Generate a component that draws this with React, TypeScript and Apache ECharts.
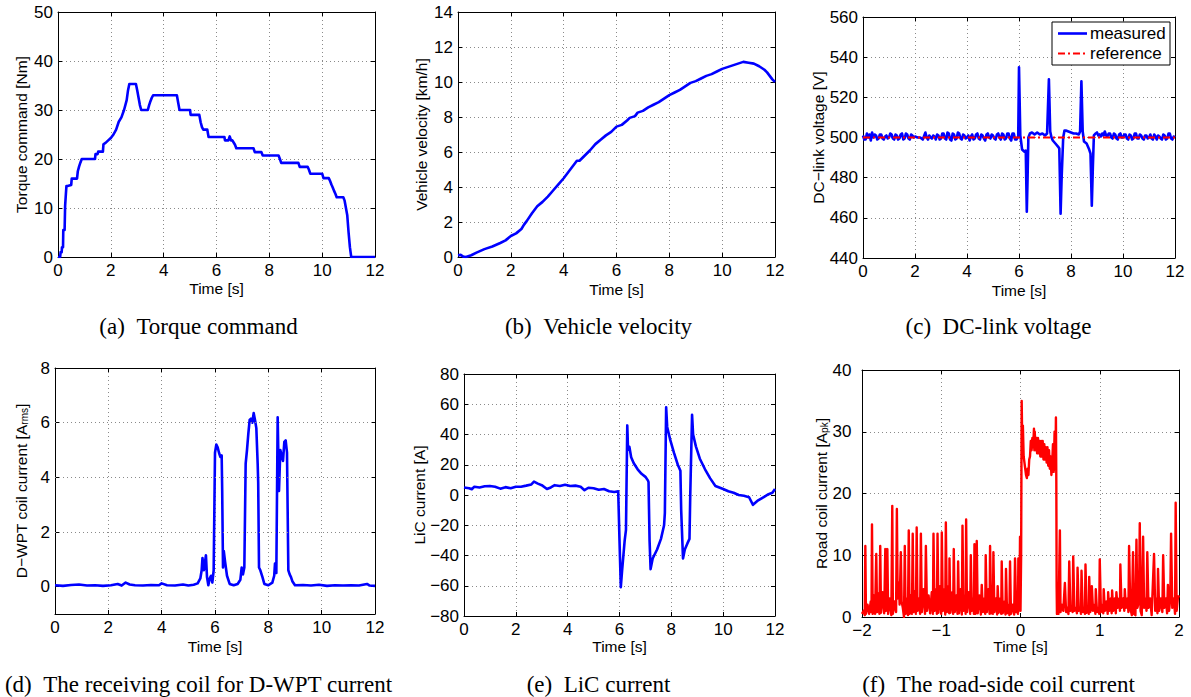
import React, { useEffect, useRef } from 'react';
import * as echarts from 'echarts';

const SANS = '"Liberation Sans", Arial, Helvetica, sans-serif';
const SERIF = '"Liberation Serif", "Times New Roman", serif';
const BLUE = '#0000ff';
const RED = '#ff0000';

// (a) Torque command [Nm] vs time [s]
const torqueCommand: [number, number][] = [
  [0, 0], [0.08, 0], [0.1, 1], [0.14, 1], [0.15, 2], [0.19, 2], [0.2, 5.5], [0.25, 5.5], [0.27, 10.5], [0.3, 13],
  [0.32, 14.5], [0.36, 14.5], [0.5, 14.7], [0.52, 16], [0.56, 16], [0.72, 16], [0.75, 17.5], [0.8, 18.5], [0.85, 19.3],
  [0.9, 20], [0.95, 20], [1.4, 20], [1.42, 21], [1.5, 21], [1.52, 21.5], [1.7, 21.5], [1.72, 23], [1.8, 23.3], [1.9, 23.8],
  [2.0, 24.3], [2.1, 25], [2.2, 26], [2.3, 27.6], [2.4, 28.5], [2.5, 30], [2.6, 32], [2.65, 34], [2.7, 35.3], [2.95, 35.3],
  [3.0, 34], [3.05, 32.5], [3.1, 31], [3.15, 30], [3.4, 30], [3.45, 31], [3.5, 31.8], [3.55, 32.5], [3.6, 33], [4.5, 33],
  [4.55, 31.5], [4.6, 30], [5.0, 30], [5.02, 29], [5.35, 29], [5.4, 27.5], [5.45, 26.5], [5.5, 26], [5.65, 26], [5.7, 24.5],
  [6.3, 24.5], [6.32, 23.8], [6.45, 23.8], [6.5, 24.6], [6.55, 23.8], [6.6, 23.8], [6.7, 22.9], [6.75, 22.2], [7.4, 22.2],
  [7.45, 21.4], [7.7, 21.4], [7.75, 20.7], [8.35, 20.7], [8.4, 20], [8.45, 19.2], [9.1, 19.2], [9.15, 18.4], [9.45, 18.4],
  [9.5, 17.8], [9.55, 17.0], [10.0, 17.0], [10.05, 16.1], [10.25, 16.1], [10.3, 15.5], [10.35, 14.8], [10.4, 14.2],
  [10.45, 13.5], [10.5, 12.9], [10.55, 12.2], [10.8, 12.2], [10.85, 11.5], [10.9, 10], [10.95, 8.5], [11.0, 5],
  [11.05, 2], [11.1, 0], [12, 0],
];

// (b) Vehicle velocity [km/h]
const vehicleVelocity: [number, number][] = [
  [0, 0.1], [0.1, 0.12], [0.2, 0.02], [0.3, 0.0], [0.5, 0.1], [0.7, 0.25], [1.0, 0.45], [1.3, 0.6], [1.6, 0.8], [1.8, 0.95],
  [2.0, 1.2], [2.2, 1.35], [2.4, 1.6], [2.5, 1.85], [2.6, 2.05], [2.8, 2.5], [3.0, 2.9], [3.2, 3.15], [3.4, 3.45], [3.6, 3.8],
  [3.8, 4.15], [4.0, 4.5], [4.2, 4.9], [4.4, 5.3], [4.5, 5.5], [4.6, 5.5], [4.8, 5.8], [5.0, 6.1], [5.2, 6.45], [5.4, 6.7],
  [5.6, 6.95], [5.8, 7.15], [6.0, 7.45], [6.2, 7.55], [6.4, 7.8], [6.5, 7.95], [6.7, 8.05], [6.8, 8.25], [7.0, 8.35],
  [7.2, 8.55], [7.4, 8.7], [7.6, 8.85], [7.8, 9.05], [8.0, 9.25], [8.2, 9.4], [8.4, 9.55], [8.6, 9.75], [8.8, 9.95],
  [9.0, 10.05], [9.2, 10.2], [9.4, 10.35], [9.6, 10.45], [9.8, 10.6], [10.0, 10.75], [10.2, 10.85], [10.4, 10.95],
  [10.6, 11.05], [10.8, 11.15], [11.0, 11.1], [11.2, 11.05], [11.4, 10.9], [11.5, 10.8], [11.6, 10.7], [11.7, 10.55],
  [11.8, 10.35], [11.9, 10.15], [12.0, 10.0],
];

// (c) DC-link voltage [V]
const dcLinkMeasured: [number, number][] = [
  [0.0, 501], [0.05, 499], [0.1, 499], [0.15, 502], [0.2, 500], [0.25, 501.5], [0.3, 498.5], [0.35, 502.5], [0.4, 500],
  [0.45, 501.5], [0.5, 501], [0.55, 499], [0.6, 499.5], [0.65, 501.5], [0.7, 501.5], [0.75, 499.5], [0.8, 499],
  [0.85, 500.5], [0.9, 501], [0.95, 499.5], [1.0, 500], [1.05, 502], [1.1, 501.5], [1.15, 499.5], [1.2, 499], [1.25, 501.5],
  [1.3, 501], [1.35, 499], [1.4, 499.5], [1.45, 501.5], [1.5, 502], [1.55, 499], [1.6, 499.5], [1.65, 502], [1.7, 501.5],
  [1.75, 499.5], [1.8, 499], [1.85, 501.5], [1.9, 501], [1.95, 500], [2.0, 500.5], [2.1, 500], [2.2, 500], [2.3, 499],
  [2.4, 502.5], [2.45, 500], [2.5, 499], [2.55, 501], [2.6, 500], [2.65, 499.5], [2.7, 501], [2.75, 500.5], [2.8, 499],
  [2.85, 501.5], [2.9, 501], [2.95, 499], [3.0, 499.5], [3.05, 502], [3.1, 502], [3.15, 499.5], [3.2, 499], [3.25, 502.5],
  [3.3, 502], [3.35, 499], [3.4, 498.5], [3.45, 502], [3.5, 501.5], [3.55, 499], [3.6, 499.5], [3.65, 502.5], [3.7, 502],
  [3.75, 499.5], [3.8, 499], [3.85, 501.5], [3.9, 501], [3.95, 499.5], [4.0, 500], [4.05, 501], [4.1, 498.5], [4.15, 500.5],
  [4.2, 501.5], [4.25, 499], [4.3, 499.5], [4.35, 501.5], [4.4, 502], [4.45, 499.5], [4.5, 499], [4.55, 501.5], [4.6, 501],
  [4.65, 499.5], [4.7, 498.5], [4.75, 501.5], [4.8, 502], [4.85, 500], [4.9, 499.5], [4.95, 501.5], [5.0, 501],
  [5.05, 499.5], [5.1, 499], [5.15, 501.5], [5.2, 502], [5.25, 500], [5.3, 499], [5.35, 502], [5.4, 501.5], [5.45, 499],
  [5.5, 499.5], [5.55, 502], [5.6, 502], [5.65, 499.5], [5.7, 498.5], [5.75, 502], [5.8, 502], [5.85, 499], [5.9, 499],
  [5.97, 500.5],
  [6.0, 535], [6.05, 501], [6.08, 498], [6.12, 494], [6.2, 493], [6.26, 493.5], [6.3, 463], [6.33, 480], [6.36, 500],
  [6.42, 502], [6.5, 502.5], [6.6, 501.5], [6.7, 502.5], [6.8, 501.5], [6.9, 502], [7.0, 501], [7.08, 502], [7.15, 529],
  [7.2, 503], [7.25, 500], [7.3, 498.5], [7.4, 497], [7.5, 495.5], [7.55, 494.5], [7.6, 462], [7.64, 480], [7.7, 500],
  [7.75, 503.5], [7.8, 503.5], [7.9, 503], [8.0, 502.5], [8.1, 502], [8.2, 502], [8.3, 501.5], [8.35, 503], [8.4, 528],
  [8.45, 503], [8.5, 498], [8.55, 497.5], [8.6, 497], [8.7, 494], [8.75, 492], [8.8, 466], [8.84, 485], [8.88, 501],
  [8.95, 502], [9.0, 502.5], [9.05, 501], [9.1, 501.5], [9.15, 500.5], [9.2, 502], [9.25, 501], [9.3, 503], [9.35, 501],
  [9.4, 500.5], [9.45, 502], [9.5, 502], [9.55, 500], [9.6, 499.5], [9.65, 502], [9.7, 501.5], [9.75, 499.5], [9.8, 499],
  [9.85, 501.5], [9.9, 502], [9.95, 500], [10.0, 500], [10.05, 501.5], [10.1, 501.5], [10.15, 499.5], [10.2, 499],
  [10.25, 501.5], [10.3, 501], [10.35, 499], [10.4, 499.5], [10.45, 502], [10.5, 502], [10.55, 499.5], [10.6, 499.5],
  [10.65, 501.5], [10.7, 501], [10.75, 499.5], [10.8, 499], [10.85, 501], [10.9, 501], [10.95, 499.5], [11.0, 500],
  [11.05, 501.5], [11.1, 499.5], [11.15, 499], [11.2, 501.5], [11.25, 500.5], [11.3, 499], [11.35, 501], [11.4, 500.5],
  [11.45, 499.5], [11.5, 499], [11.55, 501.5], [11.6, 501], [11.65, 499], [11.7, 499.5], [11.75, 502], [11.8, 502],
  [11.85, 499.5], [11.9, 499], [11.95, 500.5], [12.0, 500],
];
const dcLinkReference: [number, number][] = [[0, 500], [12, 500]];

// (d) D-WPT receiving coil current [A rms]
const dwptCurrent: [number, number][] = [
  [0, 0.05], [0.3, 0.03], [0.6, 0.06], [0.9, 0.08], [1.2, 0.04], [1.5, 0.05], [1.8, 0.03], [2.1, 0.05], [2.35, 0.1],
  [2.5, 0.04], [2.65, 0.15], [2.8, 0.08], [3.0, 0.05], [3.3, 0.04], [3.6, 0.06], [3.9, 0.05], [4.0, 0.12], [4.2, 0.05],
  [4.5, 0.04], [4.8, 0.08], [5.0, 0.04], [5.2, 0.07], [5.35, 0.12], [5.45, 0.3], [5.5, 0.6], [5.53, 1.05], [5.58, 0.6],
  [5.62, 0.85], [5.66, 1.15], [5.7, 0.35], [5.75, 0.05], [5.8, 0.3], [5.85, 0.4], [5.9, 0.15], [5.95, 0.6], [6.0, 4.9],
  [6.05, 5.2], [6.1, 5.1], [6.15, 4.9], [6.2, 4.75], [6.25, 4.8], [6.27, 3.5], [6.3, 0.7], [6.33, 1.3], [6.38, 0.9],
  [6.45, 0.4], [6.55, 0.1], [6.7, 0.05], [6.85, 0.1], [6.95, 0.25], [7.0, 0.7], [7.05, 0.45], [7.1, 0.7], [7.15, 4.5],
  [7.2, 5.0], [7.25, 5.6], [7.3, 6.1], [7.35, 6.15], [7.4, 6.0], [7.45, 6.35], [7.5, 6.1], [7.55, 5.8], [7.6, 4.5],
  [7.62, 3.8], [7.65, 0.7], [7.7, 0.6], [7.78, 0.35], [7.85, 0.1], [8.0, 0.05], [8.15, 0.15], [8.22, 0.4], [8.25, 0.85],
  [8.3, 0.5], [8.35, 6.2], [8.4, 3.5], [8.45, 5.0], [8.5, 4.8], [8.55, 4.6], [8.6, 5.3], [8.65, 5.35], [8.7, 4.9],
  [8.75, 0.6], [8.8, 0.45], [8.85, 0.35], [8.9, 0.2], [9.0, 0.05], [9.3, 0.06], [9.6, 0.04], [9.9, 0.07], [10.2, 0.03],
  [10.5, 0.05], [10.8, 0.04], [11.1, 0.05], [11.4, 0.04], [11.7, 0.1], [11.8, 0.04], [12, 0.03],
];
const dwptTicks = [0, 2, 4, 6, 8];

// (e) LiC current [A]
const licCurrent: [number, number][] = [
  [0, 5], [0.2, 4.5], [0.3, 3.8], [0.4, 5.5], [0.6, 5], [0.8, 5.8], [1.0, 6], [1.2, 5.5], [1.4, 4.2], [1.6, 5.2],
  [1.8, 4.5], [2.0, 5.5], [2.2, 5.5], [2.4, 6.2], [2.6, 7], [2.7, 8.8], [2.85, 7.5], [3.0, 6.5], [3.2, 4], [3.35, 5],
  [3.5, 6.5], [3.7, 6], [3.9, 6.8], [4.1, 6], [4.3, 6.2], [4.5, 5.5], [4.65, 3.2], [4.8, 4.8], [5.0, 4.5], [5.2, 3.5],
  [5.4, 4], [5.6, 2.5], [5.8, 2], [5.95, 2.5], [6.0, -30], [6.05, -61], [6.1, -50], [6.2, -30], [6.25, -23], [6.3, 46],
  [6.33, 30], [6.38, 32], [6.45, 25], [6.55, 21], [6.7, 17], [6.85, 14], [7.0, 12], [7.1, 9.5], [7.12, 8.5], [7.16, -30],
  [7.2, -49], [7.28, -42], [7.45, -36], [7.6, -29], [7.72, -20], [7.75, -12], [7.8, 58], [7.84, 45], [7.95, 37],
  [8.1, 28], [8.25, 20], [8.35, 16], [8.38, -10], [8.45, -42], [8.52, -36], [8.62, -32], [8.7, -29], [8.73, 0],
  [8.8, 53], [8.84, 40], [8.95, 32], [9.1, 24], [9.3, 17], [9.5, 11], [9.7, 6], [10.0, 4], [10.2, 2.5], [10.4, 1.5],
  [10.6, 0], [10.8, -0.5], [11.0, -1.5], [11.15, -6.5], [11.35, -3.5], [11.55, -1.5], [11.75, 0.5], [11.9, 1.5], [12, 4],
];

// (f) Road-side coil current [A pk]
const roadCoilCurrent: [number, number][] = [
  [-2, 0.5], [-1.98, 1], [-1.965, 0.3], [-1.958, 11.5], [-1.95, 0.5], [-1.93, 2], [-1.91, 0.5], [-1.89, 2.5], [-1.88, 0.8],
  [-1.874, 15], [-1.865, 0.5], [-1.85, 3.5], [-1.835, 0.5], [-1.82, 10.2], [-1.81, 0.8], [-1.795, 3.8], [-1.78, 0.5],
  [-1.77, 11.5], [-1.76, 0.7], [-1.74, 4], [-1.72, 0.6], [-1.706, 11], [-1.695, 1], [-1.68, 11], [-1.67, 0.5], [-1.65, 3],
  [-1.63, 0.3], [-1.618, 18], [-1.61, 0.5], [-1.59, 2.5], [-1.57, 0.8], [-1.56, 17.5], [-1.55, 3], [-1.535, 5.5],
  [-1.525, 2], [-1.51, 10.5], [-1.5, 2.5], [-1.485, 1.5], [-1.47, 0], [-1.46, 11.5], [-1.45, 0.5], [-1.43, 3], [-1.42, 0.3],
  [-1.41, 14], [-1.4, 0.5], [-1.385, 3.5], [-1.37, 0.5], [-1.36, 13.5], [-1.35, 0.8], [-1.33, 4.2], [-1.32, 0.5],
  [-1.31, 14.5], [-1.3, 1], [-1.28, 3], [-1.267, 0.5], [-1.257, 13.5], [-1.245, 0.8], [-1.225, 4.5], [-1.205, 0.5],
  [-1.194, 11.5], [-1.18, 1], [-1.16, 3.5], [-1.14, 0.6], [-1.12, 4], [-1.105, 0.5], [-1.098, 13.5], [-1.085, 1],
  [-1.065, 4.5], [-1.055, 0.5], [-1.047, 13.5], [-1.035, 0.7], [-1.015, 5], [-1.0, 0.5], [-0.993, 13.7], [-0.98, 1],
  [-0.96, 4.5], [-0.95, 0.4], [-0.942, 15.3], [-0.93, 0.8], [-0.91, 5], [-0.9, 0.6], [-0.896, 9.5], [-0.885, 0.7],
  [-0.86, 4], [-0.85, 0.5], [-0.842, 11], [-0.83, 0.8], [-0.81, 3.5], [-0.795, 0.5], [-0.787, 9], [-0.775, 0.6],
  [-0.755, 4.5], [-0.74, 0.4], [-0.732, 14.8], [-0.72, 1], [-0.7, 3.5], [-0.692, 0.5], [-0.686, 15.8], [-0.675, 0.8],
  [-0.655, 4], [-0.635, 0.5], [-0.627, 10], [-0.615, 1], [-0.595, 3], [-0.588, 0.5], [-0.581, 11.8], [-0.57, 0.5],
  [-0.558, 1], [-0.552, 12.3], [-0.54, 0.6], [-0.52, 3.5], [-0.5, 0.4], [-0.489, 5.2], [-0.475, 0.8], [-0.455, 3],
  [-0.445, 0.5], [-0.439, 10], [-0.425, 0.8], [-0.405, 4.5], [-0.39, 0.5], [-0.384, 11.5], [-0.37, 0.6], [-0.355, 2.5],
  [-0.348, 0.5], [-0.342, 10.5], [-0.33, 0.8], [-0.31, 3], [-0.295, 0.4], [-0.288, 5], [-0.275, 0.7], [-0.255, 3],
  [-0.243, 0.5], [-0.237, 9], [-0.225, 0.6], [-0.2, 2.5], [-0.19, 0.4], [-0.183, 7.8], [-0.17, 0.6], [-0.15, 2],
  [-0.14, 0.3], [-0.132, 9], [-0.12, 0.5], [-0.1, 2], [-0.08, 0.4], [-0.069, 9.5], [-0.055, 0.8], [-0.04, 2],
  [-0.032, 0.5], [-0.027, 9.5], [-0.02, 1], [-0.012, 4], [-0.006, 13], [0.0, 1], [0.008, 10], [0.015, 35], [0.022, 28],
  [0.03, 31], [0.04, 26], [0.05, 25], [0.06, 24], [0.07, 23], [0.08, 22.5], [0.09, 24], [0.1, 23], [0.11, 25.5],
  [0.12, 26], [0.13, 28.5], [0.14, 27], [0.15, 29], [0.16, 27.5], [0.17, 30.5], [0.175, 27], [0.18, 30], [0.19, 27],
  [0.2, 29], [0.21, 26.5], [0.22, 29], [0.23, 26.5], [0.24, 28.5], [0.25, 26], [0.26, 28.5], [0.27, 26], [0.28, 28.5],
  [0.29, 25.5], [0.3, 28], [0.31, 25.5], [0.32, 27.5], [0.33, 25], [0.34, 27.5], [0.35, 24.5], [0.36, 27], [0.37, 24],
  [0.38, 26], [0.39, 23], [0.4, 25], [0.41, 28], [0.42, 23.5], [0.43, 30], [0.44, 24], [0.447, 32.3], [0.452, 22],
  [0.456, 5], [0.46, 0.5], [0.47, 2], [0.48, 0.5], [0.497, 14], [0.505, 0.8], [0.52, 2], [0.54, 1], [0.56, 5.5],
  [0.575, 0.8], [0.59, 1.5], [0.605, 0.5], [0.615, 9], [0.63, 1], [0.65, 1.8], [0.658, 0.8], [0.665, 9.8], [0.68, 1],
  [0.7, 1.5], [0.712, 0.6], [0.72, 8], [0.735, 1], [0.755, 1.5], [0.763, 0.5], [0.77, 7.5], [0.785, 0.8], [0.805, 1.5],
  [0.813, 0.5], [0.82, 8.5], [0.835, 0.7], [0.855, 1.5], [0.862, 0.5], [0.867, 6.5], [0.88, 0.8], [0.893, 1.5], [0.9, 5],
  [0.915, 1], [0.935, 2], [0.945, 0.5], [0.95, 4.5], [0.965, 0.8], [0.985, 1.5], [0.993, 0.5], [1.0, 9.3], [1.015, 0.8],
  [1.035, 2], [1.045, 0.6], [1.05, 4.5], [1.065, 1], [1.085, 2.5], [1.1, 0.5], [1.106, 4], [1.12, 1], [1.14, 3],
  [1.15, 0.6], [1.156, 4.3], [1.17, 1], [1.19, 3], [1.203, 0.6], [1.21, 4], [1.225, 1.5], [1.245, 3], [1.255, 1],
  [1.26, 8.5], [1.275, 1.5], [1.295, 3], [1.31, 1], [1.316, 4.5], [1.33, 1.5], [1.35, 3], [1.362, 0.8], [1.37, 11.5],
  [1.385, 1.5], [1.405, 0.3], [1.42, 10.5], [1.43, 0.5], [1.45, 0.3], [1.463, 12.5], [1.475, 1.5], [1.495, 2.5],
  [1.505, 15.2], [1.515, 1], [1.53, 0.3], [1.547, 13], [1.56, 1.5], [1.58, 3], [1.59, 1], [1.6, 10.5], [1.615, 1.5],
  [1.635, 3], [1.655, 0.3], [1.685, 10.2], [1.7, 1], [1.72, 3], [1.728, 0.6], [1.735, 7.8], [1.75, 1], [1.77, 3],
  [1.79, 0.8], [1.8, 10], [1.815, 1.5], [1.835, 3], [1.85, 0.6], [1.86, 5.2], [1.875, 1], [1.89, 3], [1.9, 13.5],
  [1.915, 1.5], [1.935, 3], [1.95, 0.5], [1.958, 18.5], [1.97, 1], [1.985, 3], [2.0, 3.5],
];

const yAxisNames = [
  'Torque command [Nm]',
  'Vehicle velocity [km/h]',
  'DC\u2212link voltage [V]',
  'D\u2212WPT coil current [A{sub|rms}]',
  'LiC current [A]',
  'Road coil current [A{sub|pk}]',
];
const captions = [
  '(a)\u2002Torque command',
  '(b)\u2002Vehicle velocity',
  '(c)\u2002DC-link voltage',
  '(d)\u2002The receiving coil for D-WPT current',
  '(e)\u2002LiC current',
  '(f)\u2002The road-side coil current',
];
const legendNames = ['measured', 'reference'];

const fmt = (v: number) => String(v).replace('-', '\u2212');

function lineSeries(name: string, data: [number, number][], color: string, width: number, type: any = 'solid') {
  return {
    type: 'line', name, data, showSymbol: false, symbol: 'none', silent: true, clip: true,
    lineStyle: { color, width, type, join: 'round' }, itemStyle: { color },
  };
}

const panels = [
  { grid: { left: 58, top: 12, width: 317, height: 245 }, x: [0, 12, 2], y: [0, 50, 10], xGap: 23.5, yGap: 28.5,
    yMargin: 5, series: [lineSeries('torque', torqueCommand, BLUE, 2.6)] },
  { grid: { left: 458, top: 12, width: 317, height: 245 }, x: [0, 12, 2], y: [0, 14, 2], xGap: 24, yGap: 28.5,
    yMargin: 5, series: [lineSeries('velocity', vehicleVelocity, BLUE, 2.6)] },
  { grid: { left: 863, top: 17, width: 312, height: 241 }, x: [0, 12, 2], y: [440, 560, 20], xGap: 24, yGap: 37,
    yMargin: 5,
    series: [lineSeries(legendNames[0], dcLinkMeasured, BLUE, 2.6), lineSeries(legendNames[1], dcLinkReference, RED, 2, [7, 3, 2, 3])] },
  { grid: { left: 55, top: 368, width: 320, height: 246 }, x: [0, 12, 2], y: [-1, 8, 1], xGap: 24, yGap: 25.5,
    yMargin: 5, series: [lineSeries('dwpt', dwptCurrent, BLUE, 2.6)] },
  { grid: { left: 464, top: 374, width: 311, height: 242 }, x: [0, 12, 2], y: [-80, 80, 20], xGap: 22.5, yGap: 37,
    yMargin: 5, series: [lineSeries('lic', licCurrent, BLUE, 2.6)] },
  { grid: { left: 862, top: 370, width: 317, height: 247 }, x: [-2, 2, 1], y: [0, 40, 10], xGap: 21.5, yGap: 32.5,
    yMargin: 10.5, series: [lineSeries('road', roadCoilCurrent, RED, 2.4)] },
];

const captionPos = [[198.5, 326], [598.5, 326], [998.5, 326], [198.5, 684], [598.5, 684], [998.5, 684]];

export default function App() {
  const ref = useRef<HTMLDivElement>(null);
  useEffect(() => {
    if (!ref.current) return;
    const chart = echarts.init(ref.current, undefined, { renderer: 'svg' });
    const axisLine = { show: true, onZero: false, lineStyle: { color: '#000', width: 1 } };
    const axisTick = { show: true, inside: true, length: 4, lineStyle: { color: '#000', width: 1 } };
    const splitLine = { show: true, lineStyle: { color: '#8a8a8a', width: 1, type: [1, 3] } };
    const xAxes: any[] = [];
    const yAxes: any[] = [];
    panels.forEach((p, i) => {
      xAxes.push({
        type: 'value', gridIndex: i, position: 'bottom', min: p.x[0], max: p.x[1], interval: p.x[2],
        name: 'Time [s]', nameLocation: 'middle', nameGap: p.xGap, nameMoveOverlap: false,
        nameTextStyle: { fontFamily: SANS, fontSize: 15.5, color: '#000' },
        axisLine, axisTick, splitLine,
        axisLabel: { show: true, fontFamily: SANS, fontSize: 17, color: '#000', margin: 5, formatter: fmt },
      });
      xAxes.push({
        type: 'value', gridIndex: i, position: 'top', min: p.x[0], max: p.x[1], interval: p.x[2],
        axisLine, axisTick, splitLine: { show: false }, axisLabel: { show: false },
      });
      const isD = i === 3;
      yAxes.push({
        type: 'value', gridIndex: i, position: 'left', min: p.y[0], max: p.y[1], interval: p.y[2],
        name: yAxisNames[i], nameLocation: 'middle', nameGap: p.yGap, nameMoveOverlap: false,
        nameTextStyle: {
          fontFamily: SANS, fontSize: 15.5, color: '#000',
          rich: { sub: { fontFamily: SANS, fontSize: 10, color: '#000', verticalAlign: 'bottom', padding: [6, 0, 0, 0] } },
        },
        axisLine,
        axisTick: isD ? { ...axisTick, customValues: dwptTicks } : axisTick,
        splitLine: isD ? { show: false } : splitLine,
        axisLabel: {
          show: true, fontFamily: SANS, fontSize: 17, color: '#000', margin: p.yMargin, formatter: fmt,
          ...(isD ? { customValues: dwptTicks } : {}),
        },
      });
      yAxes.push({
        type: 'value', gridIndex: i, position: 'right', min: p.y[0], max: p.y[1], interval: p.y[2],
        axisLine,
        axisTick: isD ? { ...axisTick, customValues: dwptTicks } : axisTick,
        splitLine: { show: false }, axisLabel: { show: false },
      });
    });

    const series: any[] = [];
    panels.forEach((p, i) => {
      p.series.forEach((s: any) => series.push({ ...s, xAxisIndex: 2 * i, yAxisIndex: 2 * i }));
    });
    // horizontal dotted grid lines for panel (d) at its tick values
    series.push({
      type: 'line', name: 'dwptGrid', data: [], xAxisIndex: 6, yAxisIndex: 6, silent: true, z: 1,
      markLine: {
        silent: true, symbol: ['none', 'none'], label: { show: false }, animation: false,
        lineStyle: { color: '#8a8a8a', width: 1, type: [1, 3] },
        emphasis: { disabled: true },
        data: dwptTicks.slice(1, -1).map((v) => ({ yAxis: v })),
      },
    });

    const graphics: any[] = captions.map((c, i) => ({
      type: 'text', x: captionPos[i][0], y: captionPos[i][1], z: 100,
      style: { text: c, fontFamily: SERIF, fontSize: 23, fill: '#000', align: 'center', verticalAlign: 'middle' },
    }));
    graphics.push(
      { type: 'rect', z: 100, shape: { x: 1052, y: 22, width: 118, height: 43 }, style: { fill: '#fff', stroke: '#000', lineWidth: 1 } },
      { type: 'line', z: 101, shape: { x1: 1058, y1: 33.5, x2: 1087, y2: 33.5 }, style: { stroke: BLUE, lineWidth: 2.6 } },
      { type: 'line', z: 101, shape: { x1: 1058, y1: 53.5, x2: 1087, y2: 53.5 }, style: { stroke: RED, lineWidth: 2, lineDash: [7, 3, 2, 3] } },
      { type: 'text', z: 101, x: 1090, y: 33.5, style: { text: legendNames[0], fontFamily: SANS, fontSize: 17, fill: '#000', verticalAlign: 'middle' } },
      { type: 'text', z: 101, x: 1090, y: 53.5, style: { text: legendNames[1], fontFamily: SANS, fontSize: 17, fill: '#000', verticalAlign: 'middle' } },
    );

    chart.setOption({
      animation: false,
      backgroundColor: '#fff',
      grid: panels.map((p) => ({ ...p.grid, show: false, containLabel: false, outerBoundsMode: 'none' })),
      xAxis: xAxes,
      yAxis: yAxes,
      series,
      graphic: graphics,
    });
    return () => chart.dispose();
  }, []);
  return <div ref={ref} style={{ position: 'absolute', left: 0, top: 0, width: 1191, height: 697, background: '#fff' }} />;
}
